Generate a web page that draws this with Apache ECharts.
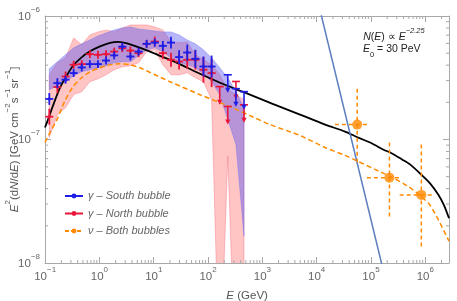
<!DOCTYPE html>
<html><head><meta charset="utf-8">
<script src="https://cdn.jsdelivr.net/npm/echarts@6/dist/echarts.min.js"></script>
<style>html,body{margin:0;padding:0;background:#fff}#c{width:457px;height:301px}</style>
</head><body><div id="c"></div>
<script>
// ---------------- data ----------------
const binE = [0.12,0.169,0.239,0.337,0.475,0.67,0.945,1.33,1.88,2.65,3.74,5.28,7.44,10.5,14.8,20.9,29.5,41.6,58.7,82.7,117,165,232,328,462];
const binHalfDex = 0.074;
// gamma - South bubble (blue)
const southVal = [2.13e-7,2.86e-7,3.05e-7,3.45e-7,3.83e-7,4.08e-7,4.08e-7,4.36e-7,4.80e-7,5.65e-7,4.70e-7,5.15e-7,5.95e-7,6.09e-7,5.73e-7,6.09e-7,4.65e-7,5.06e-7,4.50e-7,3.90e-7,3.90e-7,null,null,null,null];
const southErrDex = [0.048,0.04,0.032,0.032,0.032,0.032,0.032,0.032,0.032,0.032,0.032,0.032,0.032,0.032,0.04,0.048,0.056,0.065,0.073,0.08,0.089,null,null,null,null];
const southUL = [null,null,null,null,null,null,null,null,null,null,null,null,null,null,null,null,null,null,null,null,null,null,3.34e-7,2.58e-7,2.44e-7];
// gamma - North bubble (red)
const northVal = [1.53e-7,2.66e-7,3.24e-7,4.03e-7,4.08e-7,4.91e-7,4.85e-7,4.91e-7,5.15e-7,5.49e-7,5.25e-7,5.00e-7,5.95e-7,6.21e-7,5.00e-7,4.42e-7,4.28e-7,4.42e-7,4.42e-7,3.67e-7,3.45e-7,null,null,null,null];
const northErrDex = [0.065,0.048,0.04,0.032,0.032,0.032,0.032,0.032,0.032,0.032,0.032,0.032,0.032,0.04,0.048,0.056,0.065,0.073,0.08,0.105,0.113,null,null,null,null];
const northUL = [null,null,null,null,null,null,null,null,null,null,null,null,null,null,null,null,null,null,null,null,null,2.68e-7,1.85e-7,2.95e-7,1.91e-7];
// shaded systematic bands
const southBandHi = [3.74e-7,4.26e-7,4.85e-7,5.52e-7,5.95e-7,6.40e-7,6.90e-7,7.29e-7,7.71e-7,8.00e-7,8.15e-7,7.86e-7,7.71e-7,7.57e-7,7.43e-7,7.43e-7,7.03e-7,6.40e-7,5.95e-7,5.32e-7,4.58e-7,3.81e-7,3.16e-7,2.44e-7,1.81e-7];
const southBandLo = [2.53e-7,2.73e-7,2.94e-7,3.28e-7,3.54e-7,3.67e-7,3.81e-7,3.95e-7,4.18e-7,4.26e-7,4.26e-7,4.76e-7,5.32e-7,5.52e-7,5.13e-7,4.58e-7,4.18e-7,4.03e-7,3.81e-7,3.41e-7,2.94e-7,2.31e-7,1.45e-7,9.12e-8,1.65e-8];
const northBandHi = [3.34e-7,4.18e-7,4.58e-7,6.65e-7,5.84e-7,7.03e-7,7.43e-7,7.71e-7,7.43e-7,8.00e-7,8.46e-7,8.46e-7,8.46e-7,8.15e-7,7.71e-7,6.17e-7,6.06e-7,6.17e-7,4.85e-7,4.42e-7,4.03e-7,3.34e-7,2.53e-7,2.31e-7,2.10e-7];
const northBandLo = [1.04e-7,1.59e-7,1.81e-7,2.31e-7,2.44e-7,2.94e-7,3.10e-7,3.34e-7,3.67e-7,3.88e-7,3.95e-7,4.18e-7,5.13e-7,5.32e-7,4.03e-7,3.34e-7,3.34e-7,3.47e-7,3.16e-7,2.94e-7,2.10e-7,1e-9,7.29e-8,1e-9,1e-9];
// gamma model (black)
const gammaModelE = [0.1,0.1136,0.1404,0.1889,0.2436,0.328,0.4603,0.6742,1.03,1.574,2.21,3.237,6.38,13.12,26.98,71.53,167.1,482.3,1515,4968,14340,33480,58130,105200,167800,245700,375500,527100,877000,1.231e6,1.728e6,2.229e6,2.75e6];
const gammaModelV = [1.25e-7,1.449e-7,1.88e-7,2.626e-7,3.221e-7,3.951e-7,4.584e-7,5.173e-7,5.675e-7,6.056e-7,6.169e-7,6.0e-7,5.419e-7,4.76e-7,4.178e-7,3.404e-7,2.883e-7,2.393e-7,1.951e-7,1.591e-7,1.321e-7,1.16e-7,1.038e-7,9.284e-8,8.305e-8,7.709e-8,6.899e-8,6.285e-8,5.125e-8,4.417e-8,3.601e-8,2.935e-8,2.306e-8];
// neutrino model (orange dashed)
const nuModelE = [0.1,0.1236,0.1663,0.2335,0.328,0.4603,0.6742,1.03,1.386,2.406,3.677,5.617,10.61,20.04,71.53,255.3,596.3,1392,4968,14340,33480,58130,119500,245700,484300,877000,1.231e6,1.728e6,2.229e6,2.75e6];
const nuModelV = [9.46e-8,1.139e-7,1.449e-7,2.062e-7,2.675e-7,3.133e-7,3.535e-7,3.807e-7,3.989e-7,4.102e-7,4.026e-7,3.807e-7,3.342e-7,2.937e-7,2.306e-7,1.845e-7,1.561e-7,1.321e-7,1.077e-7,8.619e-8,7.43e-8,6.646e-8,5.728e-8,4.937e-8,4.178e-8,3.405e-8,2.935e-8,2.263e-8,1.811e-8,1.504e-8];
// steep blue line
const steepE = [1.0e4, 2.0e5];
const steepV = [1.46e-6, 6.46e-9];
// neutrino data points
const nuPtE = [5.61e4, 2.20e5, 8.51e5];
const nuPtV = [1.32e-7, 4.91e-8, 3.56e-8];
const nuPtElo = [2.18e4, 8.45e4, 3.40e5];
const nuPtEhi = [9.19e4, 3.55e5, 1.43e6];
const nuPtVlo = [6.53e-8, 2.35e-8, 1.30e-8];
const nuPtVhi = [2.58e-7, 9.46e-8, 9.12e-8];
const legendNames = ['\u03b3 \u2013 South bubble', '\u03b3 \u2013 North bubble', '\u03bd \u2013 Both bubbles'];
const xMin = 0.1, xMax = 2.75e6, yMin = 1e-8, yMax = 1e-6;

// ---------------- drawing ----------------
const FONT = 'Liberation Sans, Arial, sans-serif';
const BLUE = '#1e1ee6', RED = '#e8173a', ORANGE = '#ff8a00', STEEL = '#5a7dbe';
const GRAY = '#666', AXC = '#a8a8a8';

function pts(xs, ys){ return xs.map((x,i)=>[x, ys[i]]); }
function powLabel(v){
  const e = Math.log10(v), r = Math.round(e);
  if (Math.abs(e - r) > 1e-6) return '';
  return '{h| }{b|10}{s|' + (r < 0 ? '\u2212' + (-r) : r) + '}';
}
const labRich = {
  h:{fontSize:1, lineHeight:17},
  b:{fontSize:11.5, color:GRAY, lineHeight:13, verticalAlign:'bottom', fontFamily:FONT},
  s:{fontSize:8, color:GRAY, lineHeight:10, verticalAlign:'top', fontFamily:FONT}
};
const nameRich = {
  h:{fontSize:1, lineHeight:17},
  n:{fontSize:11.5, color:'#555', lineHeight:13, verticalAlign:'bottom', fontFamily:FONT},
  i:{fontSize:11.5, color:'#555', lineHeight:13, verticalAlign:'bottom', fontStyle:'italic', fontFamily:FONT},
  s:{fontSize:8, color:'#555', lineHeight:10, verticalAlign:'top', fontFamily:FONT}
};
function axis(pos, isX, showLab){
  return {
    type:'log', logBase:10, position:pos,
    min: isX ? xMin : yMin, max: isX ? xMax : yMax,
    axisLine:{show:true, lineStyle:{color:AXC, width:1}},
    axisTick:{show:true, inside:true, length:6, lineStyle:{color:AXC, width:1}},
    splitLine:{show:false}, minorTick:{show:false}, minorSplitLine:{show:false},
    axisLabel:{show:showLab, formatter:powLabel, rich:labRich, margin: isX ? 3 : 5, padding: isX ? 0 : [0,0,4,0]}
  };
}
const xAxes = [axis('bottom', true, true), axis('top', true, false)];
xAxes[0].name = '{h| }{i|E}{n| (GeV)}';
xAxes[0].nameLocation = 'middle'; xAxes[0].nameGap = 22; xAxes[0].nameMoveOverlap = false;
xAxes[0].nameTextStyle = {rich:nameRich};
const yAxes = [axis('left', false, true), axis('right', false, false)];
yAxes[0].name = '{h| }{i|E}{s|2}{n|(d}{i|N}{n|/d}{i|E}{n|) [GeV cm}{s|\u22122}{n|s}{s|\u22121}{n|sr}{s|\u22121}{n|]}';
yAxes[0].nameLocation = 'middle'; yAxes[0].nameGap = 24; yAxes[0].nameMoveOverlap = false;
yAxes[0].nameTextStyle = {rich:nameRich};

function bandSeries(hi, lo, fill, stroke, z){
  return {
    type:'custom', z:z, clip:true, silent:true, data:[[binE[0], hi[0]]],
    renderItem:function(params, api){
      const p = [];
      for (let i = 0; i < binE.length; i++) p.push(api.coord([binE[i], hi[i]]));
      for (let i = binE.length - 1; i >= 0; i--) p.push(api.coord([binE[i], lo[i]]));
      return {type:'polygon', shape:{points:p}, style:{fill:fill, stroke:stroke, lineWidth:0.8}};
    }
  };
}
function crossData(vals, errs){
  const d = [];
  vals.forEach((v,i)=>{ if (v == null) return;
    const f = Math.pow(10, errs[i]), g = Math.pow(10, binHalfDex);
    d.push([binE[i], v, binE[i]/g, binE[i]*g, v/f, v*f]); });
  return d;
}
function crossSeries(vals, errs, color){
  return {
    type:'custom', z:5, clip:true, silent:true, data:crossData(vals, errs),
    renderItem:function(params, api){
      const E = api.value(0), v = api.value(1);
      const c = api.coord([E, v]), l = api.coord([api.value(2), v]), r = api.coord([api.value(3), v]);
      const b = api.coord([E, api.value(4)]), t = api.coord([E, api.value(5)]);
      const st = {stroke:color, lineWidth:1.8};
      return {type:'group', children:[
        {type:'line', shape:{x1:l[0], y1:c[1], x2:r[0], y2:c[1]}, style:st},
        {type:'line', shape:{x1:c[0], y1:t[1], x2:c[0], y2:b[1]}, style:st},
        {type:'circle', shape:{cx:c[0], cy:c[1], r:1.6}, style:{fill:color}}
      ]};
    }
  };
}
function ulSeries(vals, color){
  const d = [], g = Math.pow(10, binHalfDex);
  vals.forEach((v,i)=>{ if (v != null) d.push([binE[i], v, binE[i]/g, binE[i]*g]); });
  return {
    type:'custom', z:5, clip:true, silent:true, data:d,
    renderItem:function(params, api){
      const E = api.value(0), v = api.value(1);
      const c = api.coord([E, v]), l = api.coord([api.value(2), v]), r = api.coord([api.value(3), v]);
      const len = 18, st = {stroke:color, lineWidth:1.6};
      return {type:'group', children:[
        {type:'line', shape:{x1:l[0], y1:c[1], x2:r[0], y2:c[1]}, style:st},
        {type:'line', shape:{x1:c[0], y1:c[1], x2:c[0], y2:c[1]+len-4}, style:st},
        {type:'polygon', shape:{points:[[c[0]-2.6, c[1]+len-5],[c[0]+2.6, c[1]+len-5],[c[0], c[1]+len]]}, style:{fill:color}}
      ]};
    }
  };
}
const nuBarData = nuPtE.map((e,i)=>[e, nuPtV[i], nuPtElo[i], nuPtEhi[i], nuPtVlo[i], nuPtVhi[i]]);

const series = [
  bandSeries(northBandHi, northBandLo, 'rgba(255,80,80,0.33)', 'rgba(240,90,110,0.45)', 1),
  bandSeries(southBandHi, southBandLo, 'rgba(80,80,240,0.42)', 'rgba(110,110,240,0.5)', 2),
  {type:'line', z:3, data:pts(gammaModelE, gammaModelV), showSymbol:false, smooth:0.25, silent:true,
   lineStyle:{color:'#000', width:1.8}},
  {type:'line', z:3, data:pts(nuModelE, nuModelV), showSymbol:false, smooth:0.25, silent:true,
   lineStyle:{color:ORANGE, width:1.5, type:[5,3]}},
  {type:'line', z:3, data:pts(steepE, steepV), showSymbol:false, silent:true, lineStyle:{color:STEEL, width:1.5}},
  crossSeries(northVal, northErrDex, RED),
  crossSeries(southVal, southErrDex, BLUE),
  ulSeries(northUL, RED),
  ulSeries(southUL, BLUE),
  {type:'custom', z:6, clip:true, silent:true, data:nuBarData,
   renderItem:function(params, api){
     const E = api.value(0), v = api.value(1);
     const c = api.coord([E, v]), l = api.coord([api.value(2), v]), r = api.coord([api.value(3), v]);
     const b = api.coord([E, api.value(4)]), t = api.coord([E, api.value(5)]);
     const st = {stroke:ORANGE, lineWidth:1.5, lineDash:[4,3]};
     return {type:'group', children:[
       {type:'line', shape:{x1:l[0], y1:c[1], x2:r[0], y2:c[1]}, style:st},
       {type:'line', shape:{x1:c[0], y1:t[1], x2:c[0], y2:b[1]}, style:st}
     ]};
   }},
  {type:'scatter', z:7, data:pts(nuPtE, nuPtV), symbol:'circle', symbolSize:10, itemStyle:{color:ORANGE}, silent:true},
  // minor log ticks on all four sides
  {type:'custom', z:10, clip:false, silent:true, data:[[1, 1e-7]],
   renderItem:function(params, api){
     const ch = [], st = {stroke:AXC, lineWidth:1}, L = 3;
     for (let d = -1; d <= 6; d++) for (let m = 2; m <= 9; m++) {
       const E = m * Math.pow(10, d); if (E >= xMax) continue;
       const b = api.coord([E, yMin]), t = api.coord([E, yMax]);
       ch.push({type:'line', shape:{x1:b[0], y1:b[1], x2:b[0], y2:b[1]-L}, style:st});
       ch.push({type:'line', shape:{x1:t[0], y1:t[1], x2:t[0], y2:t[1]+L}, style:st});
     }
     for (let d = -8; d <= -7; d++) for (let m = 2; m <= 9; m++) {
       const v = m * Math.pow(10, d);
       const l = api.coord([xMin, v]), r = api.coord([xMax, v]);
       ch.push({type:'line', shape:{x1:l[0], y1:l[1], x2:l[0]+L, y2:l[1]}, style:st});
       ch.push({type:'line', shape:{x1:r[0], y1:r[1], x2:r[0]-L, y2:r[1]}, style:st});
     }
     return {type:'group', children:ch};
   }},
  // legend entries
  {type:'line', name:legendNames[0], data:[], symbol:'circle', itemStyle:{color:BLUE}, lineStyle:{color:BLUE, width:1.5}},
  {type:'line', name:legendNames[1], data:[], symbol:'circle', itemStyle:{color:RED}, lineStyle:{color:RED, width:1.5}},
  {type:'line', name:legendNames[2], data:[], symbol:'circle', itemStyle:{color:ORANGE}, lineStyle:{color:ORANGE, width:1.5, type:[4,2]}}
];

const chart = echarts.init(document.getElementById('c'), null, {renderer:'canvas'});
chart.setOption({
  animation:false,
  backgroundColor:'#fff',
  grid:{left:45, right:8, top:16, bottom:38, containLabel:false, outerBoundsMode:'none'},
  xAxis:xAxes, yAxis:yAxes,
  legend:{data:legendNames, orient:'vertical', left:59, top:184, itemWidth:18, itemHeight:6, itemGap:3.5,
    selectedMode:false, textStyle:{color:GRAY, fontStyle:'italic', fontSize:11, fontFamily:FONT, lineHeight:14}},
  graphic:[
    {type:'text', left:363, top:27, silent:true, style:{
      text:'{h| }{i|N}{n|(}{i|E}{n|) \u221d }{i|E}{s|\u22122.25}',
      rich:{
        h:{fontSize:1, lineHeight:16},
        n:{fontSize:10.5, fill:'#222', lineHeight:12, verticalAlign:'bottom', fontFamily:FONT},
        i:{fontSize:10.5, fill:'#222', lineHeight:12, verticalAlign:'bottom', fontStyle:'italic', fontFamily:FONT},
        s:{fontSize:7.5, fill:'#222', lineHeight:9, verticalAlign:'top', fontStyle:'italic', fontFamily:FONT}
      }}},
    {type:'text', left:363, top:44, silent:true, style:{
      text:'{i|E}{sub|0}{n| = 30 PeV}{h| }',
      rich:{
        h:{fontSize:1, lineHeight:15},
        n:{fontSize:10.5, fill:'#222', lineHeight:12, verticalAlign:'top', fontFamily:FONT},
        i:{fontSize:10.5, fill:'#222', lineHeight:12, verticalAlign:'top', fontStyle:'italic', fontFamily:FONT},
        sub:{fontSize:7.5, fill:'#222', lineHeight:9, verticalAlign:'bottom', fontFamily:FONT}
      }}}
  ],
  series:series
});
</script></body></html>
